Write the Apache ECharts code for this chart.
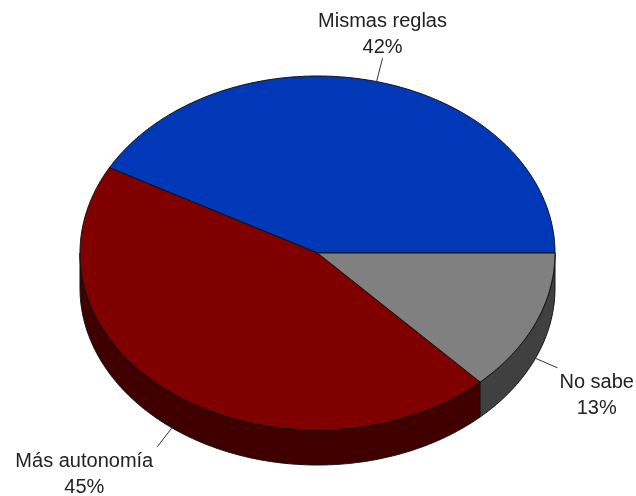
<!DOCTYPE html>
<html>
<head>
<meta charset="utf-8">
<script src="https://cdn.jsdelivr.net/npm/echarts@6/dist/echarts.min.js"></script>
<style>html,body{margin:0;padding:0;background:#fff;}#c{width:636px;height:496px;}</style>
</head>
<body>
<div id="c"></div>
<script>
const categories = ['Mismas reglas', 'Más autonomía', 'No sabe'];
const values = [42, 45, 13];

const topColors = ['#0038B8', '#800000', '#808080'];
const sideColors = ['#001B5C', '#400000', '#404040'];
const CX = 317.5, CY = 253, RX = 237.5, RY = 177, DEPTH = 35;
const FONT = '20px "Liberation Sans", Arial, sans-serif';
const LINE_H = 26;

const total = values.reduce((a, b) => a + b, 0);
const measureCtx = document.createElement('canvas').getContext('2d');
measureCtx.font = FONT;
function tw(s) { return measureCtx.measureText(s).width; }

function pt(t, dy) { return [CX + RX * Math.cos(t), CY + RY * Math.sin(t) + (dy || 0)]; }
function arc(a, b, dy) {
  const n = Math.max(2, Math.ceil(Math.abs(b - a) / 0.01));
  const out = [];
  for (let i = 0; i <= n; i++) out.push(pt(a + (b - a) * i / n, dy));
  return out;
}

function renderItem(params, api) {
  const i = params.dataIndex;
  const v = api.value(0);
  let cum = 0;
  for (let k = 0; k < i; k++) cum += values[k];
  const a0 = -cum / total * Math.PI * 2;
  const a1 = -(cum + v) / total * Math.PI * 2;
  const children = [];
  const stroke = { stroke: '#111', lineWidth: 1, lineJoin: 'round' };
  // side walls (front half only)
  for (let k = -2; k <= 1; k++) {
    const lo = Math.max(a1, 2 * Math.PI * k);
    const hi = Math.min(a0, 2 * Math.PI * k + Math.PI);
    if (hi > lo) {
      const pts = arc(lo, hi, 0).concat(arc(hi, lo, DEPTH));
      children.push({ type: 'polygon', z2: 1, shape: { points: pts },
        style: Object.assign({ fill: sideColors[i] }, stroke) });
    }
  }
  // top face
  const topPts = [[CX, CY]].concat(arc(a0, a1, 0));
  children.push({ type: 'polygon', z2: 10, shape: { points: topPts },
    style: Object.assign({ fill: topColors[i] }, stroke) });
  // label
  const mid = (a0 + a1) / 2;
  const s = Math.sin(mid), c = Math.cos(mid);
  const p0 = pt(mid, s > 0 ? DEPTH : 0);
  const L = 24;
  const p1 = [p0[0] + c * L, p0[1] + s * L];
  children.push({ type: 'line', z2: 20, shape: { x1: p0[0], y1: p0[1], x2: p1[0], y2: p1[1] },
    style: { stroke: '#333', lineWidth: 1 } });
  const pct = Math.round(v / total * 100) + '%';
  const txt = categories[i] + '\n' + pct;
  const w = Math.max(tw(categories[i]), tw(pct));
  let x = p1[0], y;
  if (c > 0.3) x = p1[0] + 2 + w / 2;
  else if (c < -0.3) x = p1[0] - 4 - w / 2;
  if (s < -0.3) y = p1[1] + 2 - LINE_H * 2; else y = p1[1] + 2;
  children.push({ type: 'text', z2: 20, x: x, y: y,
    style: { text: txt, font: FONT, fill: '#222', align: 'center', verticalAlign: 'top', lineHeight: LINE_H } });
  return { type: 'group', children: children };
}

const chart = echarts.init(document.getElementById('c'), null, { renderer: 'canvas' });
chart.setOption({
  animation: false,
  backgroundColor: '#fff',
  series: [{
    type: 'custom',
    coordinateSystem: 'none',
    renderItem: renderItem,
    data: values.map((v, i) => ({ name: categories[i], value: [v] }))
  }]
});
</script>
</body>
</html>
